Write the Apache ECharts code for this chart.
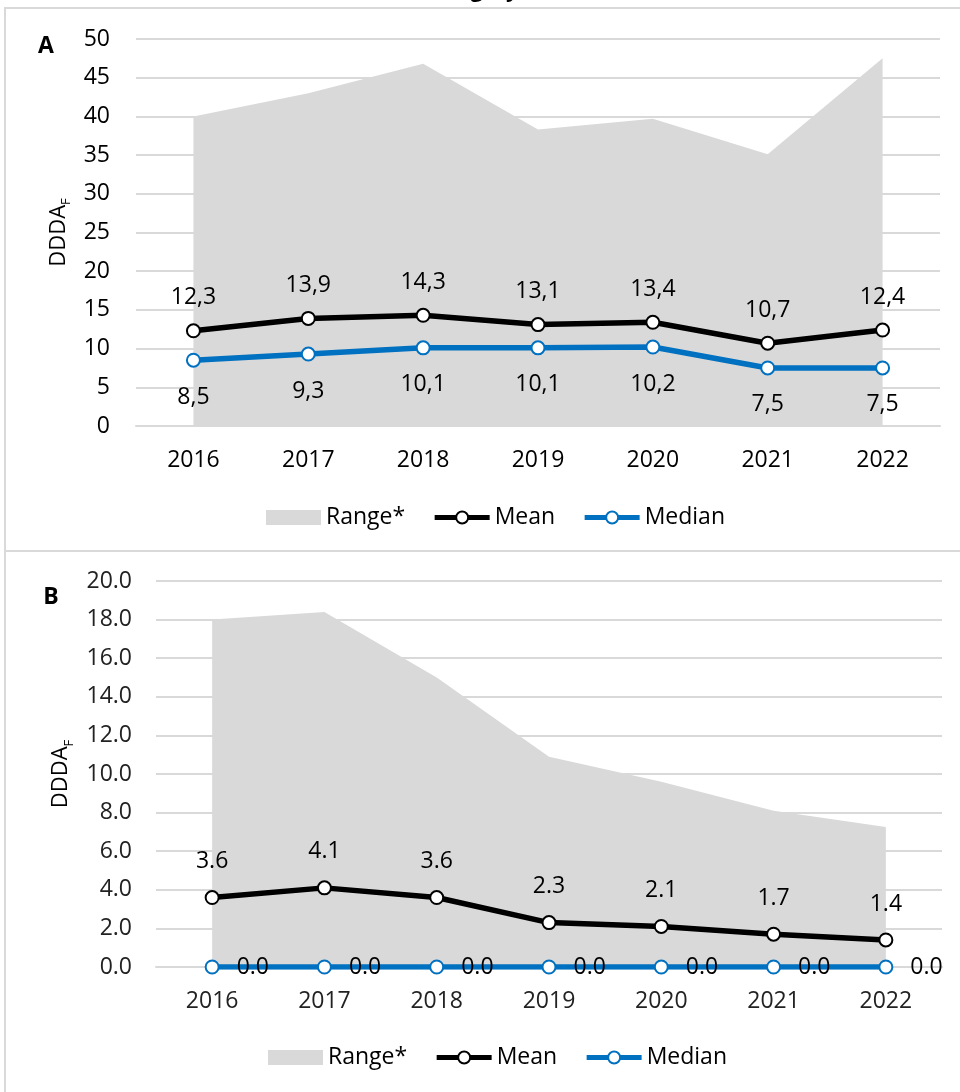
<!DOCTYPE html>
<html><head><meta charset="utf-8">
<script src="https://cdn.jsdelivr.net/npm/echarts@6/dist/echarts.min.js"></script>
<style>html,body{margin:0;padding:0;background:#fff}#c{width:960px;height:1092px}</style>
</head><body><div id="c"></div>
<script>
const years = ['2016','2017','2018','2019','2020','2021','2022'];
const rangeA  = [40.0, 43.0, 46.8, 38.3, 39.7, 35.1, 47.5];
const meanA   = [12.3, 13.9, 14.3, 13.1, 13.4, 10.7, 12.4];
const medianA = [8.5, 9.3, 10.1, 10.1, 10.2, 7.5, 7.5];
const rangeB  = [18.0, 18.4, 15.0, 10.9, 9.6, 8.1, 7.25];
const meanB   = [3.6, 4.1, 3.6, 2.3, 2.1, 1.7, 1.4];
const medianB = [0.0, 0.0, 0.0, 0.0, 0.0, 0.0, 0.0];
const legendNames = ['Range*', 'Mean', 'Median'];
const yAxisName = 'DDDA';
const yAxisSub = 'F';

const FONT = 'Open Sans';
const FS = 23;
const GRID = '#d9d9d9';
const BLUE = '#0070C0';

const fmtComma = p => p.value.toFixed(1).replace('.', ',');
const fmtDot = p => p.value.toFixed(1);

function rangeSeries(data, idx) {
  return { name: legendNames[0], type: 'line', xAxisIndex: idx, yAxisIndex: idx, data: data,
    symbol: 'none', lineStyle: { width: 0, color: GRID }, itemStyle: { color: GRID },
    areaStyle: { color: GRID, opacity: 1 }, z: 1, silent: true };
}
function lineSeries(name, data, idx, color, labelPos, dist, fmt) {
  return { name: name, type: 'line', xAxisIndex: idx, yAxisIndex: idx, data: data,
    symbol: 'emptyCircle', symbolSize: 13, showSymbol: true,
    lineStyle: { width: 5.5, color: color },
    itemStyle: { color: color, borderWidth: 3.5 },
    label: { show: true, position: labelPos, distance: dist, fontFamily: FONT, fontSize: FS, color: '#000', formatter: fmt },
    z: 3 };
}
function yAxis(idx, min, max, interval, margin, gap, dec) {
  return { type: 'value', gridIndex: idx, min: min, max: max, interval: interval,
    axisLine: { show: false }, axisTick: { show: false },
    splitLine: { lineStyle: { color: GRID, width: 2 } },
    axisLabel: { fontFamily: FONT, fontSize: FS, color: idx === 0 ? '#000' : '#222', margin: margin,
      formatter: v => v.toFixed(dec) },
    name: '{a|' + yAxisName + '}{b|' + yAxisSub + '}', nameLocation: 'middle', nameGap: gap, nameRotate: 90,
    nameTextStyle: { rich: {
      a: { fontFamily: FONT, fontSize: 22, color: '#000', lineHeight: 30 },
      b: { fontFamily: FONT, fontSize: 13, color: '#000', lineHeight: 14, padding: [16, 0, 0, 0] } } } };
}
function xAxis(idx) {
  return { type: 'category', gridIndex: idx, data: years, boundaryGap: true,
    axisLine: { lineStyle: { color: GRID, width: 2 } }, axisTick: { show: false },
    axisLabel: { fontFamily: FONT, fontSize: FS, color: idx === 0 ? '#000' : '#222', margin: 23 } };
}
function legend(left, top) {
  return { left: left, top: top, padding: 0, itemWidth: 55, itemHeight: 15, itemGap: 27,
    selectedMode: false,
    lineStyle: { width: 5 },
    itemStyle: { borderWidth: 3.5 },
    textStyle: { fontFamily: FONT, fontSize: FS, color: '#000' },
    data: [{ name: legendNames[0], icon: 'rect', itemStyle: { borderWidth: 0 } }, legendNames[1], legendNames[2]] };
}

const chart = echarts.init(document.getElementById('c'), null, { renderer: 'canvas' });
chart.setOption({
  animation: false,
  backgroundColor: '#fff',
  grid: [
    { left: 136, right: 20, top: 39, height: 387 },
    { left: 156, right: 18, top: 581, height: 386 }
  ],
  xAxis: [xAxis(0), xAxis(1)],
  yAxis: [yAxis(0, 0, 50, 5, 26, 58, 0), yAxis(1, 0, 20, 2, 24, 78, 1)],
  legend: [legend(266, 506), legend(268, 1046)],
  graphic: [
    { type: 'rect', shape: { x: 5, y: 8, width: 1000, height: 543 }, style: { fill: 'none', stroke: GRID, lineWidth: 2 }, z: -1 },
    { type: 'rect', shape: { x: 5, y: 551, width: 1000, height: 600 }, style: { fill: 'none', stroke: GRID, lineWidth: 2 }, z: -1 },
    { type: 'text', x: 46, y: 46, style: { text: 'A', font: 'bold 23px "Open Sans"', fill: '#000', align: 'center', verticalAlign: 'middle' } },
    { type: 'text', x: 51, y: 597, style: { text: 'B', font: 'bold 23px "Open Sans"', fill: '#000', align: 'center', verticalAlign: 'middle' } },
    { type: 'text', x: 362, y: -9.5, style: { text: 'Use in surgery, total', font: 'bold 22px "Open Sans"', fill: '#000', align: 'left', verticalAlign: 'middle' } }
  ],
  series: [
    rangeSeries(rangeA, 0),
    lineSeries(legendNames[1], meanA, 0, '#000', 'top', 14, fmtComma),
    lineSeries(legendNames[2], medianA, 0, BLUE, 'bottom', 18, fmtComma),
    rangeSeries(rangeB, 1),
    lineSeries(legendNames[1], meanB, 1, '#000', 'top', 17, fmtDot),
    lineSeries(legendNames[2], medianB, 1, BLUE, 'right', 17, fmtDot)
  ]
});
</script>
</body></html>
